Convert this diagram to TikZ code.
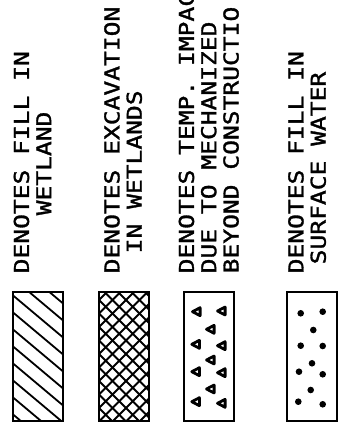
\documentclass[tikz,border=0pt]{standalone}
\usepackage{fontspec}
\newfontfamily\plotfont[FakeStretch=1.2,FakeBold=1.5]{DejaVu Sans Mono}
\usetikzlibrary{positioning}
\tikzset{
  legendbox/.style={draw=black, line width=2pt},
  hatchline/.style={draw=black, line width=1.8pt},
  crossline/.style={draw=black, line width=2.1pt},
  legendtext/.style={rotate=90, anchor=north west, inner sep=0pt, align=left,
    font=\plotfont\fontsize{20.5}{22.3}\selectfont},
  conetip/.style={draw=black, line width=2.8pt, line join=round}
}

\begin{document}
\begin{tikzpicture}[x=1pt,y=1pt]
  \useasboundingbox (0,0) rectangle (344,434);
  % legend texts
  \node[legendtext] (fillwet) at (13.5,160.5)
    {DENOTES FILL IN\\\hspace*{58pt}WETLAND};
  \node[legendtext] (excwet) at (104,160.5)
    {DENOTES EXCAVATION\\\hspace*{20pt}IN WETLANDS};
  \node[legendtext] (tempimp) at (178.5,160.5)
    {DENOTES TEMP. IMPAC\\DUE TO MECHANIZED\\BEYOND CONSTRUCTIO};
  \node[legendtext] (fillsurf) at (288,160.5)
    {DENOTES FILL IN\\\hspace*{9pt}SURFACE WATER};
  % fill in wetland
  \begin{scope}
    \clip (12.5,12.5) rectangle (62.5,141.5);
    \foreach \k in {-3,...,7}
      \draw[hatchline] (12.5,139-\k*17) -- ++(50,-42);
  \end{scope}
  \draw[legendbox] (12.5,12.5) rectangle (62.5,141.5);
  % excavation in wetlands
  \begin{scope}
    \clip (99,12.5) rectangle (149,141.5);
    \foreach \k in {-4,...,10}
      \draw[crossline] (99,12.5+\k*13.5) -- ++(50,50);
    \foreach \k in {0,...,14}
      \draw[crossline] (99,12.5+\k*13.5) -- ++(50,-50);
  \end{scope}
  \draw[legendbox] (99,12.5) rectangle (149,141.5);
  % temporary impact
  \draw[legendbox] (184.3,12.5) rectangle (234.3,141.5);
  \foreach \x/\y in {196.7/122.3, 221.7/123, 210.7/104.7, 196/89.7, 221.7/88.3,
      210.7/74, 196/62.3, 221.7/61.3, 210.7/45, 196/32.3, 221.7/30.7}
    \draw[conetip] (\x-4.2,\y) -- (\x+3.4,\y+4) -- (\x+3.4,\y-4) -- cycle;
  % fill in surface water
  \draw[legendbox] (286.7,12.5) rectangle (336.7,141.5);
  \foreach \x/\y in {300.7/120.7, 322.7/122.3, 313.3/104, 300.7/88.3, 322.7/88,
      312/70.7, 299/62.3, 322.7/59.7, 310.7/44, 298.3/32.3, 322.7/29.7}
    \fill[black] (\x,\y) circle [radius=3.3];
\end{tikzpicture}
\end{document}
